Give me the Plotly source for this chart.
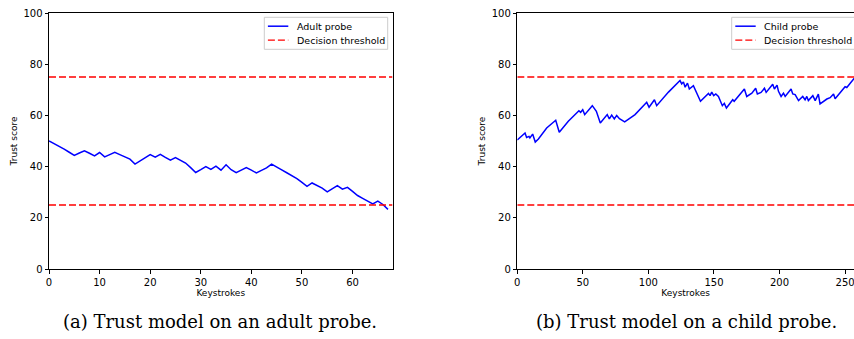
import plotly.graph_objects as go

# ---------------- data ----------------
adult_keystrokes = list(range(68))
adult_trust = [50.0, 49.0, 48.0, 46.8, 45.6, 44.4, 45.3, 46.2, 45.2, 44.2,
               45.5, 43.8, 44.7, 45.6, 44.7, 43.8, 42.9, 41.0, 42.3, 43.6,
               44.7, 43.7, 44.8, 43.6, 42.5, 43.5, 42.5, 41.4, 39.6, 37.7,
               38.8, 40.0, 38.9, 40.2, 38.6, 40.7, 38.8, 37.6, 38.6, 39.6,
               38.6, 37.5, 38.5, 39.5, 41.0, 39.7, 38.7, 37.6, 36.5, 35.3,
               33.8, 32.3, 33.6, 32.6, 31.6, 30.1, 31.3, 32.6, 31.2, 31.9,
               30.3, 28.7, 27.6, 26.5, 25.4, 26.5, 25.2, 23.3]

child_keystrokes = [0, 5.9, 7.1, 8.9, 9.6, 11.7, 13.7, 16.1, 22.4, 29.3,
                    32.0, 38.9, 47.0, 48.3, 49.9, 51.4, 57.2, 58.7, 60.3, 63.3,
                    68.6, 70.2, 72.0, 74.0, 75.8, 77.9, 79.7, 81.9, 89.8, 98.7,
                    100.5, 104.6, 106.3, 115.3, 124.1, 125.4, 126.7, 128.0, 129.8, 131.2,
                    134.3, 136.3, 139.7, 145.8, 147.0, 148.3, 149.8, 151.4, 153.4, 156.4,
                    157.9, 159.5, 164.3, 165.4, 173.2, 175.0, 178.9, 181.8, 183.1, 185.9,
                    188.5, 189.8, 194.8, 196.1, 198.1, 199.2, 201.2, 203.0, 204.3, 208.8,
                    210.1, 211.9, 214.5, 217.7, 219.5, 220.8, 222.0, 225.4, 227.2, 229.6,
                    230.9, 236.1, 238.6, 241.2, 242.4, 250.0, 251.3, 257.0]
child_trust = [50.4, 53.1, 51.4, 51.8, 51.2, 52.7, 49.6, 50.8, 55.1, 58.1,
               53.4, 57.7, 61.8, 61.2, 62.2, 60.3, 63.8, 62.5, 61.6, 57.0,
               60.3, 58.6, 60.1, 58.6, 60.0, 58.7, 58.3, 57.5, 60.3, 65.1,
               63.2, 66.1, 63.8, 69.1, 73.6, 72.3, 73.1, 71.0, 72.6, 70.3,
               71.6, 69.5, 65.5, 68.6, 67.7, 69.1, 67.7, 68.4, 67.4, 63.8,
               64.7, 62.9, 66.1, 65.5, 70.3, 67.4, 68.7, 70.6, 68.4, 69.0,
               70.6, 69.0, 72.2, 70.3, 71.8, 69.4, 67.4, 68.7, 67.4, 70.3,
               68.4, 68.1, 65.8, 67.4, 66.1, 67.4, 65.8, 67.7, 65.8, 68.3,
               64.5, 66.4, 66.9, 68.4, 66.5, 71.2, 70.9, 74.5]

thresholds = [75, 25]
y_ticks = [0, 20, 40, 60, 80, 100]
adult_x_ticks = [0, 10, 20, 30, 40, 50, 60]
child_x_ticks = [0, 50, 100, 150, 200, 250]
adult_legend = ["Adult probe", "Decision threshold"]
child_legend = ["Child probe", "Decision threshold"]
captions = ["(a) Trust model on an adult probe.", "(b) Trust model on a child probe."]

W, H = 854, 339
ML, MR, MT, MB = 49, 0, 13, 70
PW, PH = W - ML - MR, H - MT - MB
BLUE = "#0000ff"
RED = "#ff0000"
DASH = "7px,3px"


def px(x):  # figure pixel x -> paper
    return (x - ML) / PW


def py(y):  # figure pixel y -> paper
    return (H - MB - y) / PH


fig = go.Figure()

# adult panel
fig.add_trace(go.Scatter(x=adult_keystrokes, y=adult_trust, mode="lines",
                         line=dict(color=BLUE, width=1.5), name=adult_legend[0],
                         xaxis="x", yaxis="y", showlegend=False))
for t in thresholds:
    fig.add_trace(go.Scatter(x=[0, 67.9], y=[t, t], mode="lines",
                             line=dict(color=RED, width=1.3, dash=DASH),
                             name=adult_legend[1], showlegend=False,
                             xaxis="x", yaxis="y"))

# child panel
fig.add_trace(go.Scatter(x=child_keystrokes, y=child_trust, mode="lines",
                         line=dict(color=BLUE, width=1.5), name=child_legend[0],
                         xaxis="x2", yaxis="y2", showlegend=False))
for t in thresholds:
    fig.add_trace(go.Scatter(x=[0, 260], y=[t, t], mode="lines",
                             line=dict(color=RED, width=1.3, dash=DASH),
                             name=child_legend[1], showlegend=False,
                             xaxis="x2", yaxis="y2"))

tickfont = dict(family="DejaVu Sans", size=10, color="black")
titlefont = dict(family="DejaVu Sans", size=9, color="black")

common_axis = dict(showgrid=False, zeroline=False, showline=True, linecolor="black",
                   linewidth=1, ticks="outside", ticklen=3.5, tickwidth=1,
                   tickcolor="black", tickfont=tickfont, automargin=False,
                   ticklabeloverflow="allow")

fig.update_layout(
    width=W, height=H, autosize=False,
    margin=dict(l=ML, r=MR, t=MT, b=MB, pad=0),
    paper_bgcolor="white", plot_bgcolor="white",
    showlegend=False,
    xaxis=dict(domain=[0, px(392.5)], range=[0, 67.9], tickvals=adult_x_ticks,
               mirror=True, anchor="y",
               title=dict(text="Keystrokes", font=titlefont, standoff=3), **common_axis),
    yaxis=dict(domain=[0, 1], range=[0, 100], tickvals=y_ticks, mirror=True,
               anchor="x",
               title=dict(text="Trust score", font=titlefont, standoff=4), **common_axis),
    xaxis2=dict(domain=[px(517.3), 1.0], range=[0, 256.8], tickvals=child_x_ticks,
                mirror=True, anchor="y2",
                title=dict(text="Keystrokes", font=titlefont, standoff=3), **common_axis),
    yaxis2=dict(domain=[0, 1], range=[0, 100], tickvals=y_ticks, mirror=False,
                anchor="x2",
                title=dict(text="Trust score", font=titlefont, standoff=4), **common_axis),
)

# legends drawn as framed boxes (matplotlib style)
legfont = dict(family="DejaVu Sans", size=9.5, color="black")
for box_left, labels in [(264.3, adult_legend), (731.7, child_legend)]:
    fig.add_shape(type="rect", xref="paper", yref="paper",
                  x0=px(box_left), x1=px(box_left + 123.4), y0=py(49.3), y1=py(17.3),
                  line=dict(color="#cccccc", width=1), fillcolor="rgba(255,255,255,0.8)",
                  layer="above")
    for j, (lab, col, dash) in enumerate([(labels[0], BLUE, "solid"), (labels[1], RED, DASH)]):
        yc = 26.2 + 14 * j
        fig.add_shape(type="line", xref="paper", yref="paper",
                      x0=px(box_left + 3.6), x1=px(box_left + 24), y0=py(yc), y1=py(yc),
                      line=dict(color=col, width=1.5 if j == 0 else 1.3, dash=dash),
                      layer="above")
        fig.add_annotation(text=lab, x=px(box_left + 30.5), y=py(yc), xref="paper",
                           yref="paper", showarrow=False, font=legfont,
                           xanchor="left", yanchor="middle")

capfont = dict(family="DejaVu Serif", size=18, color="black")
for cx, cap in [(220, captions[0]), (686, captions[1])]:
    fig.add_annotation(text=cap, x=px(cx), y=py(321), xref="paper", yref="paper",
                       showarrow=False, font=capfont, xanchor="center", yanchor="middle")

fig.write_html("out.html",
               config={"displayModeBar": False},
               post_script="document.body.style.margin='0px';"
                           "document.body.style.overflow='hidden';")
